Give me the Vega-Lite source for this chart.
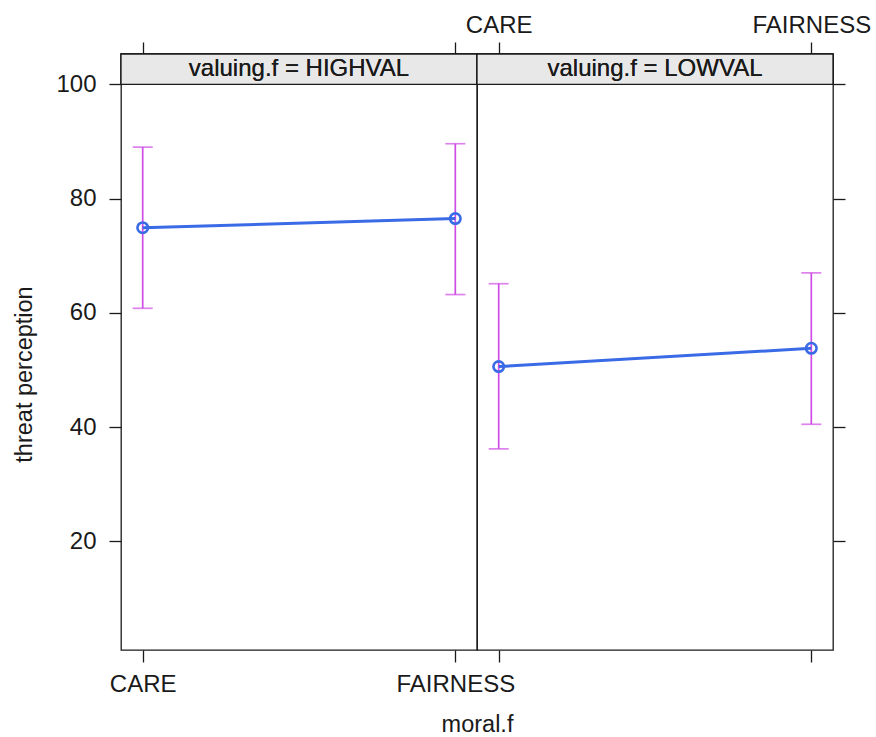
{
  "$schema": "https://vega.github.io/schema/vega-lite/v6.json",
  "padding": {"left": 12, "top": 12, "right": 5, "bottom": 0},
  "background": "white",
  "bounds": "flush",
  "spacing": 0,
  "config": {
    "font": "Liberation Sans",
    "view": {"stroke": "#1a1a1a", "strokeWidth": 1.3},
    "axis": {"grid": false, "domain": false, "tickColor": "#1a1a1a", "tickWidth": 1.3, "tickSize": 12, "labelColor": "#1a1a1a", "titleColor": "#1a1a1a", "labelFont": "Liberation Sans", "titleFont": "Liberation Sans", "labelFontSize": 24, "titleFontSize": 23.5, "titleFontWeight": "normal"}
  },
  "datasets": {
    "effects": [
      {"valuing": "HIGHVAL", "moral": "CARE", "fit": 74.9, "lower": 60.8, "upper": 89.0},
      {"valuing": "HIGHVAL", "moral": "FAIRNESS", "fit": 76.5, "lower": 63.2, "upper": 89.6},
      {"valuing": "LOWVAL", "moral": "CARE", "fit": 50.6, "lower": 36.2, "upper": 65.1},
      {"valuing": "LOWVAL", "moral": "FAIRNESS", "fit": 53.8, "lower": 40.5, "upper": 67.0}
    ]
  },
  "hconcat": [
    {
      "width": 356,
      "height": 596,
      "data": {"name": "effects"},
      "transform": [{"filter": "datum.valuing === 'HIGHVAL'"}],
      "resolve": {"axis": {"x": "independent", "y": "independent"}},
      "layer": [
        {
          "mark": {"type": "rect", "fill": "#e8e8e8", "stroke": "#1a1a1a", "strokeWidth": 1.3},
          "encoding": {
            "y": {"datum": 100, "type": "quantitative", "scale": {"domain": [1, 105.3], "nice": false, "zero": false}, "axis": {"title": "threat perception", "values": [20, 40, 60, 80, 100], "labelPadding": 13, "titlePadding": 19, "titleY": 320}},
            "y2": {"datum": 105.3}
          }
        },
        {
          "mark": {"type": "text", "fontSize": 24, "baseline": "middle", "align": "center", "color": "#1a1a1a", "font": "Liberation Sans"},
          "encoding": {
            "y": {"datum": 102.65, "type": "quantitative", "axis": null},
            "text": {"value": "valuing.f = HIGHVAL"}
          }
        },
        {
          "mark": {"type": "rule", "color": "#cf4be6", "strokeWidth": 1.7},
          "encoding": {
            "x": {"field": "moral", "type": "nominal", "scale": {"type": "point", "padding": 0.0694, "domain": ["CARE", "FAIRNESS"]}, "axis": {"orient": "bottom", "title": "moral.f", "labelAngle": 0, "labelPadding": 10, "titlePadding": 16, "titleX": 356}},
            "y": {"field": "lower", "type": "quantitative", "axis": null},
            "y2": {"field": "upper"}
          }
        },
        {
          "mark": {"type": "tick", "color": "#cf4be6", "size": 20, "thickness": 1.7},
          "encoding": {
            "x": {"field": "moral", "type": "nominal", "axis": {"orient": "top", "labels": false, "title": null}},
            "y": {"field": "lower", "type": "quantitative", "axis": null}
          }
        },
        {
          "mark": {"type": "tick", "color": "#cf4be6", "size": 20, "thickness": 1.7},
          "encoding": {
            "x": {"field": "moral", "type": "nominal", "axis": null},
            "y": {"field": "upper", "type": "quantitative", "axis": null}
          }
        },
        {
          "mark": {"type": "line", "color": "#3a6be6", "strokeWidth": 3},
          "encoding": {
            "x": {"field": "moral", "type": "nominal", "axis": null},
            "y": {"field": "fit", "type": "quantitative", "axis": null}
          }
        },
        {
          "mark": {"type": "point", "filled": false, "color": "#3a6be6", "size": 110, "strokeWidth": 2.6, "opacity": 1},
          "encoding": {
            "x": {"field": "moral", "type": "nominal", "axis": null},
            "y": {"field": "fit", "type": "quantitative", "axis": null}
          }
        }
      ]
    },
    {
      "width": 356,
      "height": 596,
      "data": {"name": "effects"},
      "transform": [{"filter": "datum.valuing === 'LOWVAL'"}],
      "resolve": {"axis": {"x": "independent", "y": "independent"}},
      "layer": [
        {
          "mark": {"type": "rect", "fill": "#e8e8e8", "stroke": "#1a1a1a", "strokeWidth": 1.3},
          "encoding": {
            "y": {"datum": 100, "type": "quantitative", "scale": {"domain": [1, 105.3], "nice": false, "zero": false}, "axis": {"orient": "right", "title": null, "labels": false, "values": [20, 40, 60, 80, 100]}},
            "y2": {"datum": 105.3}
          }
        },
        {
          "mark": {"type": "text", "fontSize": 24, "baseline": "middle", "align": "center", "color": "#1a1a1a", "font": "Liberation Sans"},
          "encoding": {
            "y": {"datum": 102.65, "type": "quantitative", "axis": null},
            "text": {"value": "valuing.f = LOWVAL"}
          }
        },
        {
          "mark": {"type": "rule", "color": "#cf4be6", "strokeWidth": 1.7},
          "encoding": {
            "x": {"field": "moral", "type": "nominal", "scale": {"type": "point", "padding": 0.0694, "domain": ["CARE", "FAIRNESS"]}, "axis": {"orient": "bottom", "title": null, "labels": false}},
            "y": {"field": "lower", "type": "quantitative", "axis": null},
            "y2": {"field": "upper"}
          }
        },
        {
          "mark": {"type": "tick", "color": "#cf4be6", "size": 20, "thickness": 1.7},
          "encoding": {
            "x": {"field": "moral", "type": "nominal", "axis": {"orient": "top", "title": null, "labelAngle": 0, "labelPadding": 5}},
            "y": {"field": "lower", "type": "quantitative", "axis": null}
          }
        },
        {
          "mark": {"type": "tick", "color": "#cf4be6", "size": 20, "thickness": 1.7},
          "encoding": {
            "x": {"field": "moral", "type": "nominal", "axis": null},
            "y": {"field": "upper", "type": "quantitative", "axis": null}
          }
        },
        {
          "mark": {"type": "line", "color": "#3a6be6", "strokeWidth": 3},
          "encoding": {
            "x": {"field": "moral", "type": "nominal", "axis": null},
            "y": {"field": "fit", "type": "quantitative", "axis": null}
          }
        },
        {
          "mark": {"type": "point", "filled": false, "color": "#3a6be6", "size": 110, "strokeWidth": 2.6, "opacity": 1},
          "encoding": {
            "x": {"field": "moral", "type": "nominal", "axis": null},
            "y": {"field": "fit", "type": "quantitative", "axis": null}
          }
        }
      ]
    }
  ]
}
